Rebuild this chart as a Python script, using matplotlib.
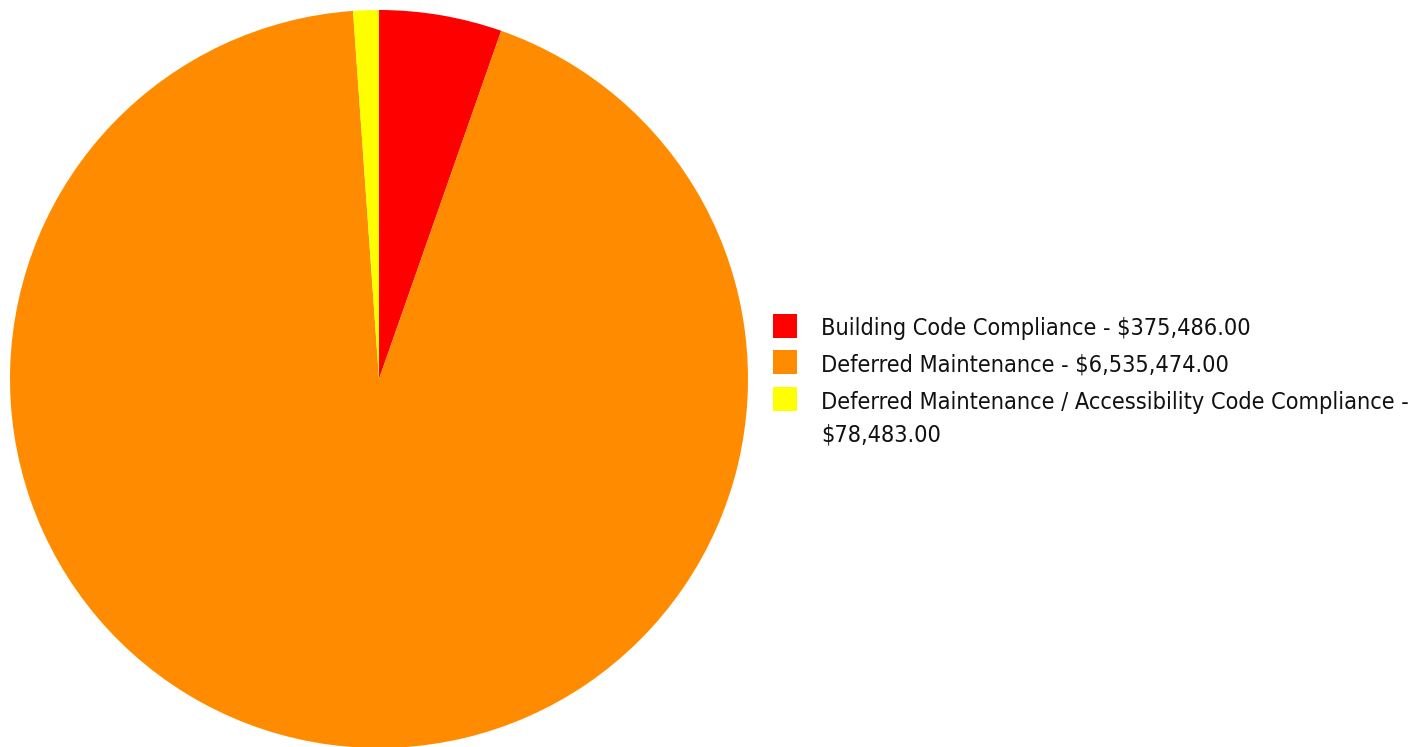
import matplotlib
matplotlib.use("Agg")
import matplotlib.pyplot as plt
from matplotlib.patches import Rectangle

categories = ["Building Code Compliance", "Deferred Maintenance",
              "Deferred Maintenance / Accessibility Code Compliance"]
values = [375486.00, 6535474.00, 78483.00]
colors = ["#FF0000", "#FF8C00", "#FFFF00"]
legend_labels = ["Building Code Compliance - \\$375,486.00",
                 "Deferred Maintenance - \\$6,535,474.00",
                 "Deferred Maintenance / Accessibility Code Compliance -\n\\$78,483.00"]

W, H = 1414, 747
fig = plt.figure(figsize=(W / 100, H / 100), dpi=100)
fig.patch.set_facecolor("white")

cx, cy, r = 379, 379, 369
ax = fig.add_axes([(cx - r) / W, (H - cy - r) / H, 2 * r / W, 2 * r / H])
ax.pie(values, colors=colors, startangle=90, counterclock=False, radius=1,
       wedgeprops=dict(linewidth=0))
ax.set_xlim(-1, 1)
ax.set_ylim(-1, 1)
ax.set_aspect("auto")
ax.axis("off")

sq_x, sq_size = 773, 24
text_x = 821
row_tops = [314, 350, 387]
line_gap = 33
for i, lab in enumerate(legend_labels):
    top = row_tops[i]
    fig.patches.append(Rectangle((sq_x / W, (H - top - sq_size) / H), sq_size / W, sq_size / H,
                                 transform=fig.transFigure, facecolor=colors[i], edgecolor="none"))
    for j, line in enumerate(lab.split("\n")):
        yc = top + sq_size / 2 + 3 + j * line_gap
        fig.text(text_x / W, (H - yc) / H, line, ha="left", va="center",
                 fontsize=16.8, color="#111111", family="DejaVu Sans", fontstretch="condensed")

fig.savefig("out.png", dpi=100)
